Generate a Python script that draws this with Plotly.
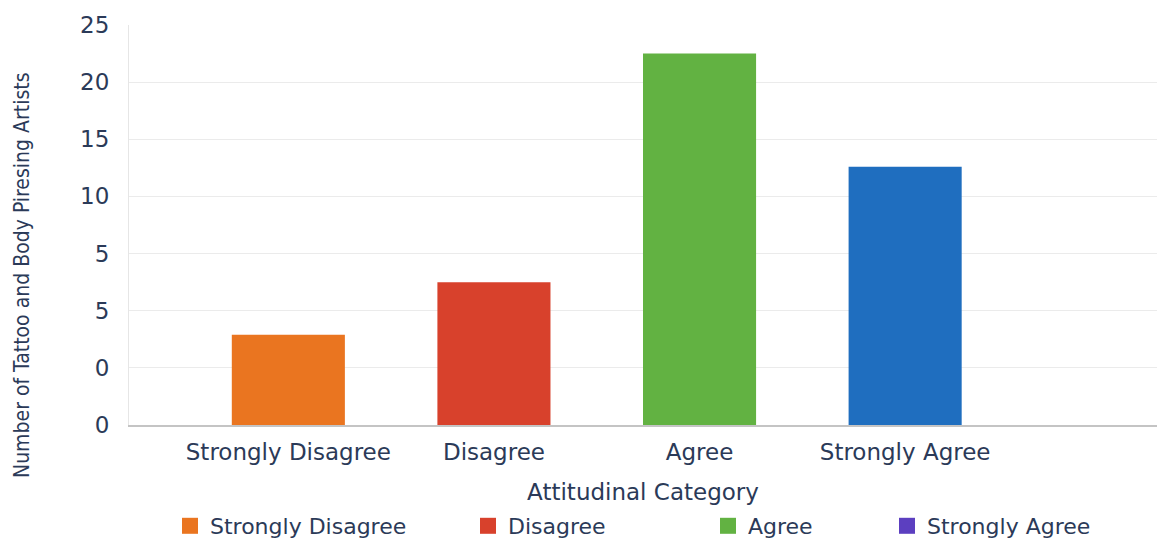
import plotly.graph_objects as go

categories = ["Strongly Disagree", "Disagree", "Agree", "Strongly Agree"]
values = [7.9, 12.5, 32.5, 22.6]
bar_colors = ["#ea7520", "#d8412c", "#62b242", "#1f6ebf"]
legend_names = ["Strongly Disagree", "Disagree", "Agree", "Strongly Agree"]
legend_colors = ["#ea7520", "#d8412c", "#62b242", "#5c3fc0"]
tick_vals = [0, 5, 10, 15, 20, 25, 30, 35]
tick_text = ["0", "0", "5", "5", "10", "15", "20", "25"]
y_title = "Number of Tattoo and Body Piresing Artists"
x_title = "Attitudinal Category"

TEXT = "#2b3a58"
FONT = "DejaVu Sans"

fig = go.Figure()
fig.add_trace(go.Bar(
    x=categories, y=values, marker=dict(color=bar_colors, line=dict(width=0)),
    width=0.55, showlegend=False, hoverinfo="x+y"))

W, H, L, T, B = 1157, 540, 129, 25, 115
PH = H - T - B
leg_px = [170, 468, 708, 887]
legend_keys = ["legend", "legend2", "legend3", "legend4"]
for name, col, key in zip(legend_names, legend_colors, legend_keys):
    fig.add_trace(go.Scatter(
        x=[None], y=[None], mode="markers", name=name, legend=key,
        marker=dict(symbol="square", size=16, color=col)))

legend_common = dict(orientation="h", yref="container", yanchor="middle", y=1 - 526 / H,
                     xanchor="left", bgcolor="rgba(0,0,0,0)",
                     font=dict(family=FONT, size=22, color=TEXT),
                     itemwidth=30, tracegroupgap=0)
layout_legends = {}
for key, px in zip(legend_keys, leg_px):
    d = dict(legend_common)
    d["x"] = (px - L) / (W - L)
    layout_legends[key] = d

fig.add_annotation(
    text=y_title, textangle=-90, showarrow=False,
    xref="paper", x=(22 - L) / (W - L), xanchor="center",
    yref="paper", y=(H - B - 275) / PH, yanchor="middle",
    font=dict(family="DejaVu Sans Condensed", size=21, color=TEXT))

fig.update_layout(
    width=W, height=H,
    margin=dict(l=L, r=0, t=T, b=B, autoexpand=False),
    paper_bgcolor="white", plot_bgcolor="white",
    font=dict(family=FONT, color=TEXT),
    xaxis=dict(
        type="category", categoryorder="array", categoryarray=categories,
        range=[-0.775, 4.225], showgrid=False, showline=True, linecolor="#c4c4c4",
        linewidth=1.5, ticks="", ticklabelstandoff=6, automargin=False,
        tickfont=dict(family=FONT, size=23, color=TEXT),
        title=dict(text=x_title, font=dict(family=FONT, size=23, color=TEXT), standoff=24),
        zeroline=False, fixedrange=True),
    yaxis=dict(
        range=[0, 35], tickvals=tick_vals, ticktext=tick_text,
        showgrid=True, gridcolor="#ebebeb", gridwidth=1,
        showline=True, linecolor="#e6e6e6", linewidth=1, automargin=False,
        zeroline=False, ticks="", ticklabelstandoff=14,
        tickfont=dict(family=FONT, size=23, color=TEXT),
        fixedrange=True),
    **layout_legends,
)

fig.write_html("out.html")
